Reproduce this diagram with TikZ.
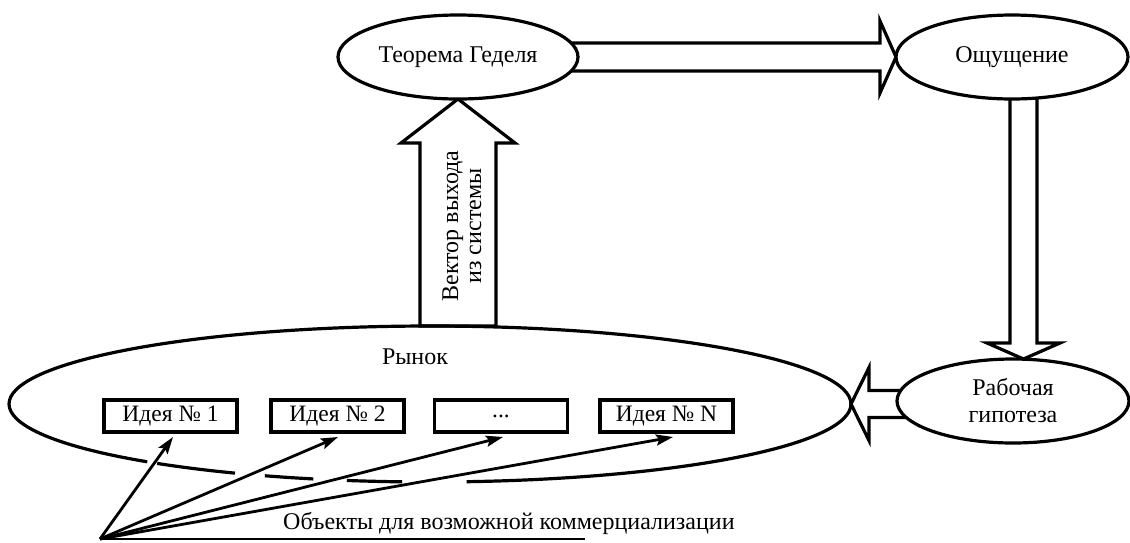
\documentclass[tikz,border=0pt]{standalone}
\usepackage{fontspec}
\setmainfont{Liberation Serif}
\usetikzlibrary{shapes.geometric,arrows.meta,calc}
\pgfdeclarelayer{background}
\pgfsetlayers{background,main}
\begin{document}
\begin{tikzpicture}[x=1pt,y=-1pt,
  ell/.style={ellipse, draw, line width=3.2pt, fill=white, inner sep=0pt, outer sep=0pt,
    font=\fontsize{24}{27}\selectfont, align=center},
  idea/.style={rectangle, draw, line width=3.6pt, minimum width=133pt, minimum height=32pt,
    inner sep=0pt, outer sep=0pt, font=\fontsize{23.5}{26}\selectfont},
  blockarrow/.style={draw, fill=white, line width=3.2pt, line join=miter},
  fan/.style={line width=2.8pt, -{Stealth[length=17pt,width=11pt,inset=3pt]}},
  mk/.style={line width=3.2pt},
  lbl/.style={font=\fontsize{24}{27}\selectfont, inner sep=0pt}]
\useasboundingbox (0,0) rectangle (1130,542);

% nodes
\node[ell, minimum width=240pt, minimum height=84pt] (goedel) at (458,57) {Теорема Геделя};
\node[ell, minimum width=232pt, minimum height=84pt] (ouch) at (1012,57) {Ощущение};
\node[ell, minimum width=232pt, minimum height=84pt] (rab) at (1013,401) {Рабочая\\гипотеза};
\node[ellipse, minimum width=842pt, minimum height=156pt, inner sep=0pt, outer sep=0pt] (market) at (430,404) {};
\node[lbl] (marketlbl) at (415,357) {Рынок};

\node[idea] (i1) at (170.5,416) {Идея № 1};
\node[idea] (i2) at (337.5,416) {Идея № 2};
\node[idea] (i3) at (501,416) {...};
\node[idea] (i4) at (666.5,416) {Идея № N};

% market ellipse: solid part and broken lower part
\draw[mk] (market.center) ++(132.2:421 and 78) arc[start angle=132.2, end angle=445, x radius=421, y radius=78];
\draw[mk] (market.center) ++(130.4:421 and 78) arc[start angle=130.4, end angle=117.6, x radius=421, y radius=78];
\draw[mk] (market.center) ++(113.1:421 and 78) arc[start angle=113.1, end angle=106.1, x radius=421, y radius=78];
\draw[mk] (market.center) ++(101.4:421 and 78) arc[start angle=101.4, end angle=93.8, x radius=421, y radius=78];

% block arrows
\begin{pgfonlayer}{background}
\draw[blockarrow] (goedel.south) -- ++(57,44) -- ++(-19,0) -- ++(0,183) -- ++(-76,0) -- ++(0,-183) -- ++(-19,0) -- cycle;
\draw[blockarrow] (ouch.west) -- ++(-16,-36) -- ++(0,22) -- ++(-340,0) -- ++(0,28) -- ++(340,0) -- ++(0,22) -- cycle;
\draw[blockarrow] ($(rab.north)+(10.5,0)$) -- ++(36.5,-16) -- ++(-23,0) -- ++(0,-270) -- ++(-27,0) -- ++(0,270) -- ++(-23,0) -- cycle;
\draw[blockarrow] (market.east) -- ++(18,-36.5) -- ++(0,23) -- ++(90,0) -- ++(0,27) -- ++(-90,0) -- ++(0,23) -- cycle;
\end{pgfonlayer}

\node[lbl, rotate=90, align=center, font=\fontsize{24}{23}\selectfont] (vec) at (462,226) {Вектор выхода\\из системы};

% fan of arrows
\coordinate (orig) at (100,539);
\coordinate (lineend) at (585,539);
\draw[line width=1.8pt] (orig) -- (lineend);
\draw[fan] (orig) -- ([xshift=2.5pt,yshift=-5pt]i1.south);
\draw[fan] (orig) -- ([xshift=0.5pt,yshift=-5pt]i2.south);
\draw[fan] (orig) -- ([xshift=2pt,yshift=-5pt]i3.south);
\draw[fan] (orig) -- ([xshift=6.5pt,yshift=-5pt]i4.south);
\node[lbl, anchor=base west] (obj) at (283,529) {Объекты для возможной коммерциализации};
\end{tikzpicture}
\end{document}
